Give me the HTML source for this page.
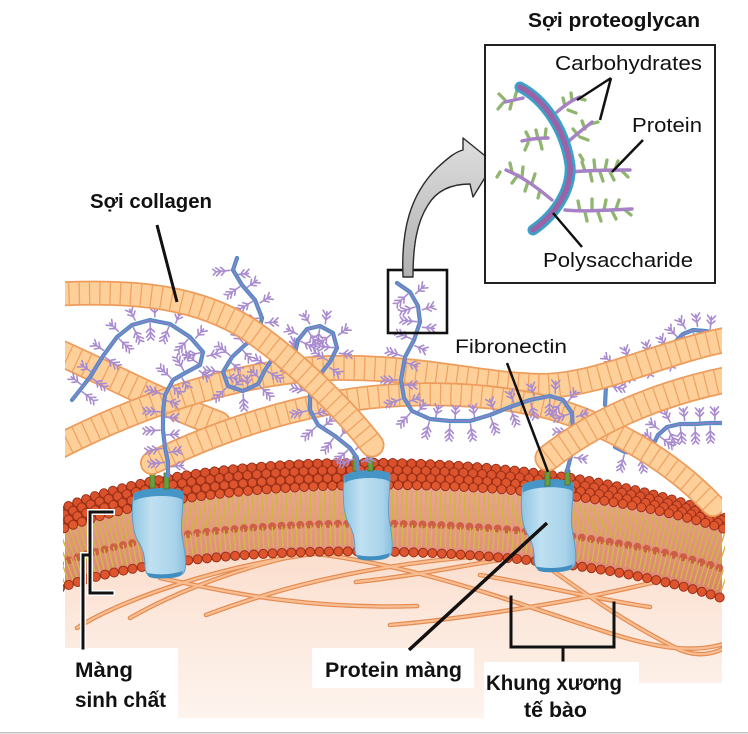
<!DOCTYPE html>
<html><head><meta charset="utf-8"><style>
html,body{margin:0;padding:0;background:#fff;}
svg{display:block;}
text{font-family:"Liberation Sans",Arial,sans-serif;fill:#111;}
.b{font-weight:bold;}
</style></head><body>
<svg width="748" height="734" viewBox="0 0 748 734" xmlns="http://www.w3.org/2000/svg">
<defs>
<linearGradient id="peach" gradientUnits="userSpaceOnUse" x1="0" y1="520" x2="0" y2="718">
<stop offset="0" stop-color="#fad8c5"/><stop offset="0.5" stop-color="#fce8dc"/><stop offset="1" stop-color="#fdf4ee"/></linearGradient>
<linearGradient id="face" gradientUnits="userSpaceOnUse" x1="0" y1="470" x2="0" y2="600">
<stop offset="0" stop-color="#eeab98"/><stop offset="1" stop-color="#d9806a"/></linearGradient>
<linearGradient id="prot" x1="0" y1="0" x2="1" y2="0">
<stop offset="0" stop-color="#90c6e2"/><stop offset="0.35" stop-color="#bfe0f1"/><stop offset="0.8" stop-color="#a9d3ea"/><stop offset="1" stop-color="#88bedd"/></linearGradient>
<linearGradient id="arr" x1="0" y1="0" x2="0" y2="1">
<stop offset="0" stop-color="#dedede"/><stop offset="1" stop-color="#b0b0b0"/></linearGradient>
<clipPath id="cl"><rect x="65" y="0" width="657" height="734"/></clipPath>
<clipPath id="mem"><rect x="63" y="400" width="662" height="230"/></clipPath>
<marker id="gl" viewBox="-25 -25 50 50" markerWidth="50" markerHeight="50" refX="0" refY="0" orient="auto" markerUnits="userSpaceOnUse" overflow="visible">
<g fill="none" stroke="#a98bcf" stroke-width="1.6" stroke-linecap="round">
<path d="M0,3 V17 M0,8 L-4,12 M0,8 L4,12 M0,12 L-4,17 M0,12 L4,17 M0,17 L-3,20 M0,17 L3,20"/>
<path d="M5,-3 V-15 M5,-7 L1,-11 M5,-7 L9,-11 M5,-11 L1,-16 M5,-11 L9,-16"/>
</g></marker>
<path id="fA" d="M58,294 C140,290 200,298 250,330 C300,365 345,410 372,445"/>
<path id="fB" d="M58,352 C110,375 160,402 218,424"/>
<path id="fC" d="M58,447 C130,410 230,372 330,368 C420,366 480,385 540,386 C600,386 660,352 730,339"/>
<path id="fD" d="M152,463 C210,435 300,400 400,395 C460,392 510,398 550,408 C610,425 670,460 713,505"/>
<path id="fE" d="M548,458 C590,425 650,395 730,379"/>
<path id="r1" d="M60,509.8 C200,443.6 560,448 727,518.6"/>
<path id="r2" d="M60,516.2 C200,452 560,455 727,522.2"/>
<path id="r3" d="M60,523.1 C200,461 560,462.5 727,526.1"/>
<path id="rF" d="M60,530 C200,470 560,470 727,530"/>
<path id="rL" d="M60,588 C200,535 560,540 727,600"/>
<path id="rM" d="M60,563.6 C200,507.7 560,510.6 727,570.6"/>
<path id="tU" d="M60,547.4 C200,489.5 560,491 727,551"/>
<path id="tL" d="M60,573.5 C200,518.8 560,522.5 727,582.5"/>
<g id="protein">
<path d="M3,8 C10,2 45,1 52,6 C53,20 49,35 51,50 C53,62 56,75 54,84 C52,92 40,92 26,92 C18,92 14,88 14,80 C14,70 12,63 7,55 C1,45 0,22 3,8 Z" fill="url(#prot)" stroke="#5d9fc8" stroke-width="1"/>
<path d="M3,8 C10,1 45,0 52,6 L52,14 C44,8 12,9 3,15 Z" fill="#4596c6"/>
<path d="M18,91 C26,93 40,93 50,89 L52,85 C40,89 28,89 16,87 Z" fill="#3f8ebf"/>
</g>
</defs>

<rect width="748" height="734" fill="#fff"/>

<!-- cytoplasm -->
<path d="M65,512 C200,445 560,450 722,522 L722,718 L65,718 Z" fill="url(#peach)"/>

<!-- cytoskeleton -->
<g clip-path="url(#cl)" fill="none" stroke-linecap="round">
<g stroke="#e48b52" stroke-width="4.6">
<path d="M77,628 C120,600 220,565 321,553"/>
<path d="M130,618 C170,595 240,565 330,548"/>
<path d="M160,578 C220,590 300,610 417,606"/>
<path d="M206,615 C260,595 350,565 495,555"/>
<path d="M308,553 C420,565 520,605 600,630 C660,650 700,655 735,640"/>
<path d="M356,582 C420,575 460,566 500,560"/>
<path d="M390,625 C450,620 560,605 655,582"/>
<path d="M480,575 C540,585 600,600 650,607"/>
<path d="M538,560 C580,590 620,620 680,650 C705,660 725,650 735,640"/>
</g>
<g stroke="#f8be92" stroke-width="2.2">
<path d="M77,628 C120,600 220,565 321,553"/>
<path d="M130,618 C170,595 240,565 330,548"/>
<path d="M160,578 C220,590 300,610 417,606"/>
<path d="M206,615 C260,595 350,565 495,555"/>
<path d="M308,553 C420,565 520,605 600,630 C660,650 700,655 735,640"/>
<path d="M356,582 C420,575 460,566 500,560"/>
<path d="M390,625 C450,620 560,605 655,582"/>
<path d="M480,575 C540,585 600,600 650,607"/>
<path d="M538,560 C580,590 620,620 680,650 C705,660 725,650 735,640"/>
</g>
</g>

<!-- membrane -->
<g clip-path="url(#mem)">
<path d="M65,507 C200,440 560,445 722,517 L722,530 C560,470 200,470 65,530 Z" fill="#a9391d"/>
<path d="M65,530 C200,470 560,470 722,530 L722,600 C560,540 200,535 65,588 Z" fill="url(#face)"/>
<g fill="none" stroke-linecap="round" stroke-dasharray="0 9.4">
<use href="#r1" stroke="#9a3018" stroke-width="10"/><use href="#r1" stroke="#d9512c" stroke-width="8"/>
<use href="#r2" stroke="#9a3018" stroke-width="10" stroke-dashoffset="4.7"/><use href="#r2" stroke="#dc532d" stroke-width="8" stroke-dashoffset="4.7"/>
<use href="#r3" stroke="#9a3018" stroke-width="10"/><use href="#r3" stroke="#de552e" stroke-width="8"/>
</g>
<use href="#tU" fill="none" stroke="#cfb640" stroke-width="30" stroke-dasharray="1.5 3.3"/>
<use href="#rM" fill="none" stroke="#c9563a" stroke-width="8" stroke-linecap="round" stroke-dasharray="0 9.4" opacity="0.85"/>
<use href="#tL" fill="none" stroke="#d2ba45" stroke-width="21" stroke-dasharray="1.4 3.4"/>
<g fill="none" stroke-linecap="round" stroke-dasharray="0 9.4">
<use href="#rF" stroke="#9a3018" stroke-width="10" stroke-dashoffset="4.7"/><use href="#rF" stroke="#e1582f" stroke-width="8" stroke-dashoffset="4.7"/>
<use href="#rL" stroke="#9a3018" stroke-width="10"/><use href="#rL" stroke="#de542d" stroke-width="8"/>
</g>
</g>

<!-- proteins -->
<use href="#protein" transform="translate(131,486)"/>
<use href="#protein" transform="translate(342,468) scale(0.92,1)"/>
<use href="#protein" transform="translate(520,477) scale(1.02,1.03)"/>
<g fill="#6c9d3d" stroke="#46752a" stroke-width="0.8">
<rect x="150" y="472" width="5" height="16"/><rect x="164" y="473" width="5" height="16"/>
<rect x="353" y="456" width="5" height="15"/><rect x="368" y="456" width="5" height="15"/>
<rect x="545" y="471" width="5" height="15"/><rect x="565" y="470" width="5" height="15"/>
</g>

<g clip-path="url(#cl)">
<!-- back strands 4,5 -->
<g fill="none" stroke="none" marker-mid="url(#gl)">
<path d="M605,405 L606,385 L612,370 L625,363 L645,358 L663,352 L675,342 L683,334 L693,330 L705,331 L722,333"/>
<path d="M615,447 L625,452 L640,453 L652,447 L658,435 L667,427 L680,424 L695,424 L710,423 L724,423"/>
</g>
<g fill="none" stroke-linecap="round" stroke-linejoin="round">
<path d="M605,405 L606,385 L612,370 L625,363 L645,358 L663,352 L675,342 L683,334 L693,330 L705,331 L722,333 M615,447 L625,452 L640,453 L652,447 L658,435 L667,427 L680,424 L695,424 L710,423 L724,423" stroke="#4e8dc5" stroke-width="4.2"/>
<path d="M605,405 L606,385 L612,370 L625,363 L645,358 L663,352 L675,342 L683,334 L693,330 L705,331 L722,333 M615,447 L625,452 L640,453 L652,447 L658,435 L667,427 L680,424 L695,424 L710,423 L724,423" stroke="#9280c6" stroke-width="1.5"/>
</g>

<!-- fibers B C D -->
<g fill="none" stroke-linecap="round">
<use href="#fB" stroke="#ee9c5b" stroke-width="27"/><use href="#fB" stroke="#fdd09a" stroke-width="23.5"/><use href="#fB" stroke="#f0a264" stroke-width="23.5" stroke-dasharray="1.3 9" stroke-linecap="butt"/>
<use href="#fC" stroke="#ee9c5b" stroke-width="26"/><use href="#fC" stroke="#fdd09a" stroke-width="22.5"/><use href="#fC" stroke="#f0a264" stroke-width="22.5" stroke-dasharray="1.3 9" stroke-linecap="butt"/>
<use href="#fD" stroke="#ee9c5b" stroke-width="24"/><use href="#fD" stroke="#fdd09a" stroke-width="20.5"/><use href="#fD" stroke="#f0a264" stroke-width="20.5" stroke-dasharray="1.3 9" stroke-linecap="butt"/>
</g>

<!-- strands 1,2,3 -->
<g fill="none" stroke="none" marker-mid="url(#gl)">
<path d="M72,400 L80,390 L90,377 L103,356 L117,337 L132,325 L150,320 L170,324 L190,337 L203,352 L200,365 L185,373 L173,380 L165,395 L163,412 L163,430 L165,448 L168,462 L168,476"/>
<path d="M237,258 L233,270 L242,285 L255,300 L262,318 L258,335 L245,345 L232,357 L223,372 L228,386 L243,391 L258,384 L265,370 L275,355 L287,352 L294,357 L298,340 L307,329 L320,326 L333,333 L337,348 L330,362 L318,377 L310,392 L310,410 L318,425 L335,436 L350,448 L357,458 L358,470"/>
<path d="M397,283 L410,292 L418,306 L420,322 L414,340 L405,357 L401,380 L404,398 L412,411 L430,419 L450,421 L470,421 L490,415 L510,407 L530,400 L550,396 L563,400 L572,413 L573,432 L572,452 L567,471"/>
</g>
<g fill="none" stroke-linecap="round" stroke-linejoin="round">
<g stroke="#4e8dc5" stroke-width="4.2">
<path d="M72,400 L80,390 L90,377 L103,356 L117,337 L132,325 L150,320 L170,324 L190,337 L203,352 L200,365 L185,373 L173,380 L165,395 L163,412 L163,430 L165,448 L168,462 L168,476"/>
<path d="M237,258 L233,270 L242,285 L255,300 L262,318 L258,335 L245,345 L232,357 L223,372 L228,386 L243,391 L258,384 L265,370 L275,355 L287,352 L294,357 L298,340 L307,329 L320,326 L333,333 L337,348 L330,362 L318,377 L310,392 L310,410 L318,425 L335,436 L350,448 L357,458 L358,470"/>
<path d="M397,283 L410,292 L418,306 L420,322 L414,340 L405,357 L401,380 L404,398 L412,411 L430,419 L450,421 L470,421 L490,415 L510,407 L530,400 L550,396 L563,400 L572,413 L573,432 L572,452 L567,471"/>
</g>
<g stroke="#9280c6" stroke-width="1.5">
<path d="M72,400 L80,390 L90,377 L103,356 L117,337 L132,325 L150,320 L170,324 L190,337 L203,352 L200,365 L185,373 L173,380 L165,395 L163,412 L163,430 L165,448 L168,462 L168,476"/>
<path d="M237,258 L233,270 L242,285 L255,300 L262,318 L258,335 L245,345 L232,357 L223,372 L228,386 L243,391 L258,384 L265,370 L275,355 L287,352 L294,357 L298,340 L307,329 L320,326 L333,333 L337,348 L330,362 L318,377 L310,392 L310,410 L318,425 L335,436 L350,448 L357,458 L358,470"/>
<path d="M397,283 L410,292 L418,306 L420,322 L414,340 L405,357 L401,380 L404,398 L412,411 L430,419 L450,421 L470,421 L490,415 L510,407 L530,400 L550,396 L563,400 L572,413 L573,432 L572,452 L567,471"/>
</g>
</g>

<!-- fibers A E -->
<g fill="none" stroke-linecap="round">
<use href="#fA" stroke="#ee9c5b" stroke-width="25"/><use href="#fA" stroke="#fdd09a" stroke-width="21.5"/><use href="#fA" stroke="#f0a264" stroke-width="21.5" stroke-dasharray="1.3 9" stroke-linecap="butt"/>
<use href="#fE" stroke="#ee9c5b" stroke-width="27"/><use href="#fE" stroke="#fdd09a" stroke-width="23.5"/><use href="#fE" stroke="#f0a264" stroke-width="23.5" stroke-dasharray="1.3 9" stroke-linecap="butt"/>
</g>
</g>

<!-- label backgrounds -->
<g fill="#fff">
<rect x="0" y="648" width="178" height="72"/>
<rect x="312" y="648" width="162" height="40"/>
<rect x="484" y="662" width="155" height="58"/>
<rect x="639" y="683" width="109" height="40"/>
<rect x="0" y="718" width="748" height="16"/>
</g>
<rect x="0" y="732" width="748" height="1.5" fill="#c2c2c2"/>

<!-- brackets and pointers -->
<g fill="none" stroke-linecap="square">
<path d="M112,512 L90,512 L90,593 L112,593 M90,555 L83,555 L83,648" stroke="#fff" stroke-width="6"/>
<path d="M112,512 L90,512 L90,593 L112,593 M90,555 L83,555 L83,648" stroke="#111" stroke-width="3"/>
<path d="M511,597 L511,647 L614,647 L614,603 M563,647 L563,660" stroke="#111" stroke-width="3"/>
</g>
<g stroke="#111" fill="none">
<line x1="157" y1="225" x2="177" y2="302" stroke-width="3"/>
<line x1="507" y1="363" x2="548" y2="472" stroke-width="2.5"/>
<line x1="547" y1="523" x2="409" y2="650" stroke-width="3.5"/>
</g>

<!-- small box and arrow -->
<rect x="388" y="270" width="59" height="63" fill="none" stroke="#111" stroke-width="2.6"/>
<path d="M403,277 C401,230 410,195 437,168 C448,158 455,152 463,150 L463,138 L494,163 L473,197 L470,184 C452,184 437,190 428,205 C417,222 413,245 413,277 Z" fill="url(#arr)" stroke="#2a2a2a" stroke-width="1.4" stroke-linejoin="round"/>

<!-- inset -->
<rect x="485" y="45" width="230" height="238" fill="#fff" stroke="#222" stroke-width="2"/>
<g fill="none" stroke-linecap="round">
<g stroke="#8fb56f" stroke-width="3.3">
<path d="M505,100 l-6,-6 M512,101 l-2,8 M503,103 l-5,6 M515,97 l2,-7"/>
<path d="M565,106 l-2,-8 M572,101 l-1,-8 M578,98 l7,2 M568,110 l8,3"/>
<path d="M530,140 l-4,-8 M538,139 l-2,-9 M545,138 l1,-9 M528,143 l-3,7 M540,141 l2,8"/>
<path d="M578,135 l-5,-6 M585,129 l-3,-8 M590,124 l8,-2 M580,137 l8,3"/>
<path d="M585,171 l-3,-9 M595,170 l-1,-10 M605,170 l2,-10 M615,170 l3,-9 M590,172 l2,9 M600,172 l3,9 M610,172 l4,8 M622,171 l6,6 M583,160 l-3,-5"/>
<path d="M512,172 l-2,-9 M522,177 l1,-10 M532,183 l3,-9 M518,175 l-6,8 M528,182 l-3,9 M540,190 l-2,8 M500,172 l-3,5"/>
<path d="M580,211 l-2,-10 M592,210 l0,-11 M604,210 l2,-10 M616,209 l3,-9 M585,212 l2,9 M598,212 l3,9 M612,211 l4,8 M625,210 l6,5"/>
</g>
<g stroke="#a681c6" stroke-width="3.4">
<path d="M523,98 L505,102"/>
<path d="M557,112 C565,105 572,100 580,97"/>
<path d="M548,138 C540,138 530,139 522,141"/>
<path d="M568,142 C575,135 585,128 592,122"/>
<path d="M572,172 C590,170 610,170 630,170"/>
<path d="M552,200 C540,190 525,178 506,170"/>
<path d="M565,210 C585,212 605,210 632,209"/>
</g>
<path d="M520,87 C545,100 565,130 570,165 C572,190 555,215 533,230" stroke="#3aa2c9" stroke-width="11"/>
<path d="M520,87 C545,100 565,130 570,165 C572,190 555,215 533,230" stroke="#9a63a8" stroke-width="5.5"/>
</g>
<g stroke="#111" stroke-width="2.5" fill="none">
<path d="M611,78 L577,100 M611,78 L600,120"/>
<path d="M643,140 L612,172"/>
<path d="M553,213 L582,247"/>
</g>

<!-- text -->
<text class="b" x="528" y="27" font-size="20" textLength="172" lengthAdjust="spacingAndGlyphs">Sợi proteoglycan</text>
<text x="555" y="70" font-size="20" textLength="147" lengthAdjust="spacingAndGlyphs">Carbohydrates</text>
<text x="632" y="132" font-size="20" textLength="70" lengthAdjust="spacingAndGlyphs">Protein</text>
<text x="543" y="267" font-size="20" textLength="150" lengthAdjust="spacingAndGlyphs">Polysaccharide</text>
<text x="455" y="353" font-size="19" textLength="112" lengthAdjust="spacingAndGlyphs">Fibronectin</text>
<text class="b" x="90" y="208" font-size="20" textLength="122" lengthAdjust="spacingAndGlyphs">Sợi collagen</text>
<text class="b" x="75" y="677" font-size="21" textLength="58" lengthAdjust="spacingAndGlyphs">Màng</text>
<text class="b" x="75" y="707" font-size="21" textLength="91" lengthAdjust="spacingAndGlyphs">sinh chất</text>
<text class="b" x="325" y="677" font-size="21" textLength="137" lengthAdjust="spacingAndGlyphs">Protein màng</text>
<text class="b" x="486" y="690" font-size="21" textLength="136" lengthAdjust="spacingAndGlyphs">Khung xương</text>
<text class="b" x="524" y="717" font-size="21" textLength="63" lengthAdjust="spacingAndGlyphs">tế bào</text>
</svg>
</body></html>
